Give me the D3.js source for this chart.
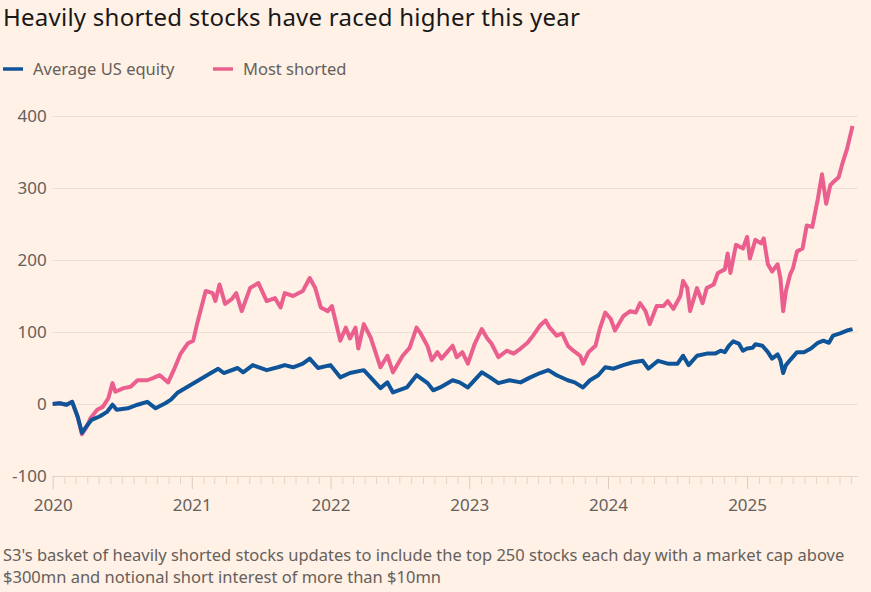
<!DOCTYPE html>
<html>
<head>
<meta charset="utf-8">
<script src="https://cdn.jsdelivr.net/npm/d3@7"></script>
<style>
  html, body { margin: 0; padding: 0; background: #fff1e5; }
  svg { display: block; font-family: "Noto Sans", sans-serif; }
</style>
</head>
<body>
<svg id="chart"></svg>
<script>
//Series data (x in decimal years, y in %)
var avgYears = [2020.00,2020.05,2020.10,2020.14,2020.18,2020.21,2020.25,2020.28,2020.34,2020.39,2020.43,2020.46,2020.54,2020.61,2020.68,2020.74,2020.81,2020.85,2020.90,2020.97,
  2021.04,2021.11,2021.19,2021.23,2021.33,2021.37,2021.44,2021.54,2021.62,2021.67,2021.73,2021.80,2021.85,2021.91,
  2022.00,2022.07,2022.14,2022.24,2022.36,2022.41,2022.45,2022.55,2022.62,2022.70,2022.74,2022.79,2022.88,2022.93,2022.99,
  2023.09,2023.15,2023.21,2023.29,2023.37,2023.44,2023.51,2023.57,2023.63,2023.71,2023.76,2023.82,2023.87,2023.93,2023.98,
  2024.04,2024.11,2024.18,2024.25,2024.29,2024.36,2024.43,2024.50,2024.54,2024.58,2024.64,2024.71,2024.77,2024.81,2024.84,2024.87,2024.90,2024.94,2024.97,
  2025.00,2025.04,2025.06,2025.11,2025.15,2025.18,2025.22,2025.24,2025.26,2025.28,2025.31,2025.36,2025.41,2025.46,2025.51,2025.55,2025.59,2025.62,2025.67,2025.72,2025.76];
var avgValues = [0,1,-1,3,-18,-40,-29,-22,-17,-11,-1,-8,-6,-1,3,-6,1,6,16,24,
  32,40,49,43,50,44,54,47,51,54,51,56,63,50,
  54,37,43,47,22,30,16,23,40,29,19,23,33,30,23,
  44,37,29,33,30,37,43,47,40,33,30,23,33,40,51,
  49,54,58,60,49,60,56,56,67,54,67,70,70,74,72,81,87,84,74,
  77,78,83,81,72,63,69,61,43,54,61,72,72,77,85,88,85,95,98,102,104];

var shortYears = [2020.00,2020.05,2020.10,2020.14,2020.18,2020.21,2020.25,2020.27,2020.32,2020.36,2020.40,2020.43,2020.45,2020.51,2020.56,2020.61,2020.68,2020.72,2020.77,2020.83,2020.87,2020.92,2020.97,
  2021.01,2021.04,2021.10,2021.15,2021.17,2021.20,2021.24,2021.29,2021.32,2021.36,2021.42,2021.48,2021.54,2021.60,2021.64,2021.67,2021.73,2021.80,2021.85,2021.89,2021.93,2021.98,
  2022.01,2022.07,2022.11,2022.14,2022.18,2022.20,2022.24,2022.29,2022.36,2022.41,2022.45,2022.52,2022.57,2022.62,2022.65,2022.70,2022.73,2022.77,2022.80,2022.88,2022.91,2022.95,2022.99,
  2023.04,2023.09,2023.13,2023.16,2023.21,2023.27,2023.32,2023.37,2023.42,2023.46,2023.51,2023.55,2023.58,2023.63,2023.67,2023.71,2023.75,2023.80,2023.82,2023.86,2023.91,2023.94,2023.98,
  2024.02,2024.05,2024.11,2024.16,2024.20,2024.23,2024.27,2024.30,2024.35,2024.40,2024.43,2024.47,2024.52,2024.54,2024.57,2024.59,2024.64,2024.68,2024.71,2024.76,2024.79,2024.84,2024.86,2024.88,2024.92,2024.97,
  2025.00,2025.02,2025.06,2025.10,2025.12,2025.15,2025.18,2025.22,2025.24,2025.26,2025.28,2025.31,2025.33,2025.36,2025.40,2025.43,2025.47,2025.51,2025.54,2025.57,2025.60,2025.62,2025.66,2025.69,2025.72,2025.76];
var shortValues = [0,1,-1,3,-18,-42,-30,-20,-8,-4,8,29,17,22,24,33,33,36,40,30,47,70,84,
  88,113,157,154,143,166,139,146,154,129,161,168,143,147,134,154,150,157,175,161,134,129,
  136,88,106,91,106,77,111,92,51,67,44,67,78,106,98,80,61,72,63,81,65,72,56,
  84,104,91,84,65,74,70,77,85,95,109,116,106,95,98,81,74,67,56,72,81,104,127,
  118,102,122,129,127,140,129,111,136,136,143,132,150,171,161,129,161,140,161,166,182,187,209,182,221,216,
  232,202,228,223,230,194,184,194,175,129,157,180,188,212,216,248,246,285,319,278,304,308,315,336,354,386];

var yTicks = [-100, 0, 100, 200, 300, 400];
var seriesNames = ["Average US equity", "Most shorted"];
var seriesColors = ["#0f5499", "#eb5f8f"];

var titleText = "Heavily shorted stocks have raced higher this year";
var noteLines = [
  "S3's basket of heavily shorted stocks updates to include the top 250 stocks each day with a market cap above",
  "$300mn and notional short interest of more than $10mn"
];

//Decimal year to Date
function toDate(y) {
  var yr = Math.floor(y);
  var start = new Date(yr, 0, 1);
  var end = new Date(yr + 1, 0, 1);
  return new Date(start.getTime() + (y - yr) * (end - start));
}

var avgData = avgYears.map(function(y, i){ return { date: toDate(y), value: avgValues[i] }; });
var shortData = shortYears.map(function(y, i){ return { date: toDate(y), value: shortValues[i] }; });

//Dimensions
var dimensions = {
  width: 871,
  height: 592,
  plotLeft: 52.7,
  plotRight: 857.7,
  plotTop: 116,
  plotBottom: 476
};

var svg = d3.select("#chart")
  .attr("width", dimensions.width)
  .attr("height", dimensions.height);

svg.append("rect")
  .attr("width", dimensions.width)
  .attr("height", dimensions.height)
  .attr("fill", "#fff1e5");

//Scales
var xScale = d3.scaleTime()
  .domain([new Date(2020, 0, 1), new Date(2025, 9, 19)])
  .range([dimensions.plotLeft, dimensions.plotRight]);

var yScale = d3.scaleLinear()
  .domain([-100, 400])
  .range([dimensions.plotBottom, dimensions.plotTop]);

//Title
svg.append("text")
  .attr("x", 3)
  .attr("y", 25.5)
  .style("font-size", "24px")
  .style("letter-spacing", "0.25px")
  .style("fill", "#1a1817")
  .text(titleText);

//Legend
var legend = svg.append("g");
var legendX = [3, 213];
seriesNames.forEach(function(name, i){
  legend.append("line")
    .attr("x1", legendX[i]).attr("x2", legendX[i] + 20)
    .attr("y1", 69).attr("y2", 69)
    .attr("stroke", seriesColors[i])
    .attr("stroke-width", 3.5);
  legend.append("text")
    .attr("x", legendX[i] + 30)
    .attr("y", 75)
    .style("font-size", "16.5px")
    .style("fill", "#66605c")
    .text(name);
});

//Y-axis with gridlines
var yAxisGen = d3.axisLeft(yScale)
  .tickValues(yTicks)
  .tickSize(-(dimensions.plotRight - dimensions.plotLeft))
  .tickPadding(6)
  .tickFormat(function(d){ return d < 0 ? "-" + Math.abs(d) : String(d); });
var yAxis = svg.append("g")
  .attr("transform", "translate(" + dimensions.plotLeft + ",0)")
  .call(yAxisGen);
yAxis.select(".domain").remove();
yAxis.selectAll("line").attr("stroke", "#eddfd3");
yAxis.selectAll("text")
  .style("font-size", "17px")
  .style("fill", "#66605c")
  .style("font-family", "Noto Sans, sans-serif");

//X-axis, monthly ticks with longer year ticks
var xAxisGen = d3.axisBottom(xScale)
  .ticks(d3.timeMonth.every(1))
  .tickSize(8)
  .tickPadding(15)
  .tickFormat(function(d){ return d.getMonth() === 0 ? d3.timeFormat("%Y")(d) : ""; });
var xAxis = svg.append("g")
  .attr("transform", "translate(0," + dimensions.plotBottom + ")")
  .call(xAxisGen);
xAxis.select(".domain")
  .attr("stroke", "#e3d4c7")
  .attr("d", "M" + dimensions.plotLeft + ",0.5H" + dimensions.plotRight);
xAxis.selectAll("line").attr("stroke", "#e3d4c7");
xAxis.selectAll(".tick")
  .filter(function(d){ return d.getMonth() === 0; })
  .select("line")
  .attr("y2", 13)
  .attr("stroke", "#dccdc0");
xAxis.selectAll("text")
  .style("font-size", "17px")
  .style("fill", "#66605c")
  .style("font-family", "Noto Sans, sans-serif");

//Lines
var lineGen = d3.line()
  .x(function(d){ return xScale(d.date); })
  .y(function(d){ return yScale(d.value); })
  .curve(d3.curveLinear);

svg.append("path")
  .datum(shortData)
  .attr("d", lineGen)
  .attr("fill", "none")
  .attr("stroke", seriesColors[1])
  .attr("stroke-width", 4)
  .attr("stroke-linejoin", "round");

svg.append("path")
  .datum(avgData)
  .attr("d", lineGen)
  .attr("fill", "none")
  .attr("stroke", seriesColors[0])
  .attr("stroke-width", 4)
  .attr("stroke-linejoin", "round");

//Footnote
svg.append("g")
  .selectAll("text")
  .data(noteLines)
  .join("text")
  .attr("x", 3)
  .attr("y", function(d, i){ return 561 + i * 21.5; })
  .style("font-size", "16.5px")
  .style("fill", "#66605c")
  .text(function(d){ return d; });
</script>
</body>
</html>
